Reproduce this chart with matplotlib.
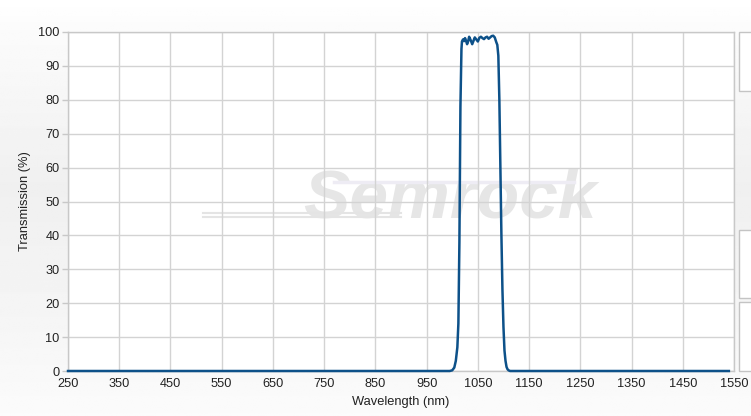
import numpy as np
import matplotlib
matplotlib.use("Agg")
import matplotlib.pyplot as plt
from matplotlib.patches import Rectangle
from matplotlib.lines import Line2D

plt.rcParams['font.family'] = ['Liberation Sans', 'DejaVu Sans']

# Data
wavelength = [250, 995, 1000, 1004, 1007, 1010, 1012, 1014, 1016, 1018, 1019,
              1021, 1023, 1025, 1027, 1029, 1031, 1033, 1036, 1039, 1042, 1044,
              1047, 1050, 1053, 1056, 1059, 1062, 1065, 1068, 1071, 1074, 1077,
              1080, 1083, 1086, 1088, 1090, 1092, 1094, 1096, 1098, 1100, 1102,
              1104, 1106, 1108, 1110, 1113, 1540]
transmission = [0, 0, 0.2, 1, 3, 7, 14, 38, 78, 95, 97.2,
                97.8, 97.3, 98.2, 97.4, 96.4, 97.2, 98.6, 97.6, 96.4, 97.6, 98.4,
                97.8, 97.2, 98.3, 98.6, 98.2, 97.9, 98.4, 98.6, 98.0, 98.4, 98.8,
                98.9, 98.4, 97.0, 96.2, 93, 80, 60, 40, 24, 13, 6,
                3, 1.2, 0.5, 0.2, 0, 0]

x_ticks = [250, 350, 450, 550, 650, 750, 850, 950, 1050, 1150, 1250, 1350, 1450, 1550]
y_ticks = [0, 10, 20, 30, 40, 50, 60, 70, 80, 90, 100]

W, H = 751, 416
fig = plt.figure(figsize=(W / 100, H / 100), dpi=100)

# background gradient
bg = fig.add_axes([0, 0, 1, 1], zorder=-10)
ys = np.linspace(0, 1, 200)
vals = np.interp(ys, [0, 0.07, 0.45, 0.75, 1.0], [1.0, 0.985, 0.94, 0.96, 0.985])
grad = np.tile(vals[:, None], (1, 10))
bg.imshow(grad, cmap='gray', vmin=0, vmax=1, aspect='auto', extent=[0, 1, 0, 1],
          origin='upper')
bg.set_xlim(0, 1)
bg.set_ylim(0, 1)
bg.axis('off')

# right side panels
for (y0, y1) in [(32, 91), (230, 298), (302, 371)]:
    fig.patches.append(Rectangle((739 / W, 1 - y1 / H), 20 / W, (y1 - y0) / H,
                                 transform=fig.transFigure, facecolor='white',
                                 edgecolor='#c4c4c4', lw=1, zorder=1))

left, right, top, bottom = 68, 734, 32, 371
ax = fig.add_axes([left / W, 1 - bottom / H, (right - left) / W, (bottom - top) / H])
ax.set_facecolor('white')

# watermark
ax.text(0.574, 0.505, 'Semrock', transform=ax.transAxes, fontsize=50, fontstyle='italic',
        fontweight='bold', color='#e6e6e6', ha='center', va='center', zorder=0.5,
        family=['Liberation Sans'])
for yy in [0.455, 0.467]:
    ax.add_line(Line2D([0.203, 0.5], [yy, yy], transform=ax.transAxes,
                       color='#e4e4e4', lw=1.5, zorder=0.5))
ax.add_line(Line2D([0.40, 0.76], [0.557, 0.557], transform=ax.transAxes,
                   color='#eeecf4', lw=2.5, zorder=0.5))

ax.plot(wavelength, transmission, color='#0d5189', lw=1.8, zorder=3, clip_on=False)

ax.set_xlim(250, 1550)
ax.set_ylim(0, 100)
ax.set_xticks(x_ticks)
ax.set_yticks(y_ticks)
ax.grid(True, color='#d3d3d3', lw=1)
ax.set_axisbelow(True)
for s in ax.spines.values():
    s.set_color('#c8c8c8')
    s.set_linewidth(1)
ax.tick_params(axis='x', length=0, pad=5, labelsize=9.2, labelcolor='#222222')
ax.tick_params(axis='y', length=4, width=1, color='#c8c8c8', pad=2, labelsize=9.2,
               labelcolor='#222222')
ax.set_xlabel('Wavelength (nm)', fontsize=9.3, color='#222222', labelpad=4)
ax.set_ylabel('Transmission (%)', fontsize=9.3, color='#222222', labelpad=5)

fig.savefig('out.png', dpi=100)
